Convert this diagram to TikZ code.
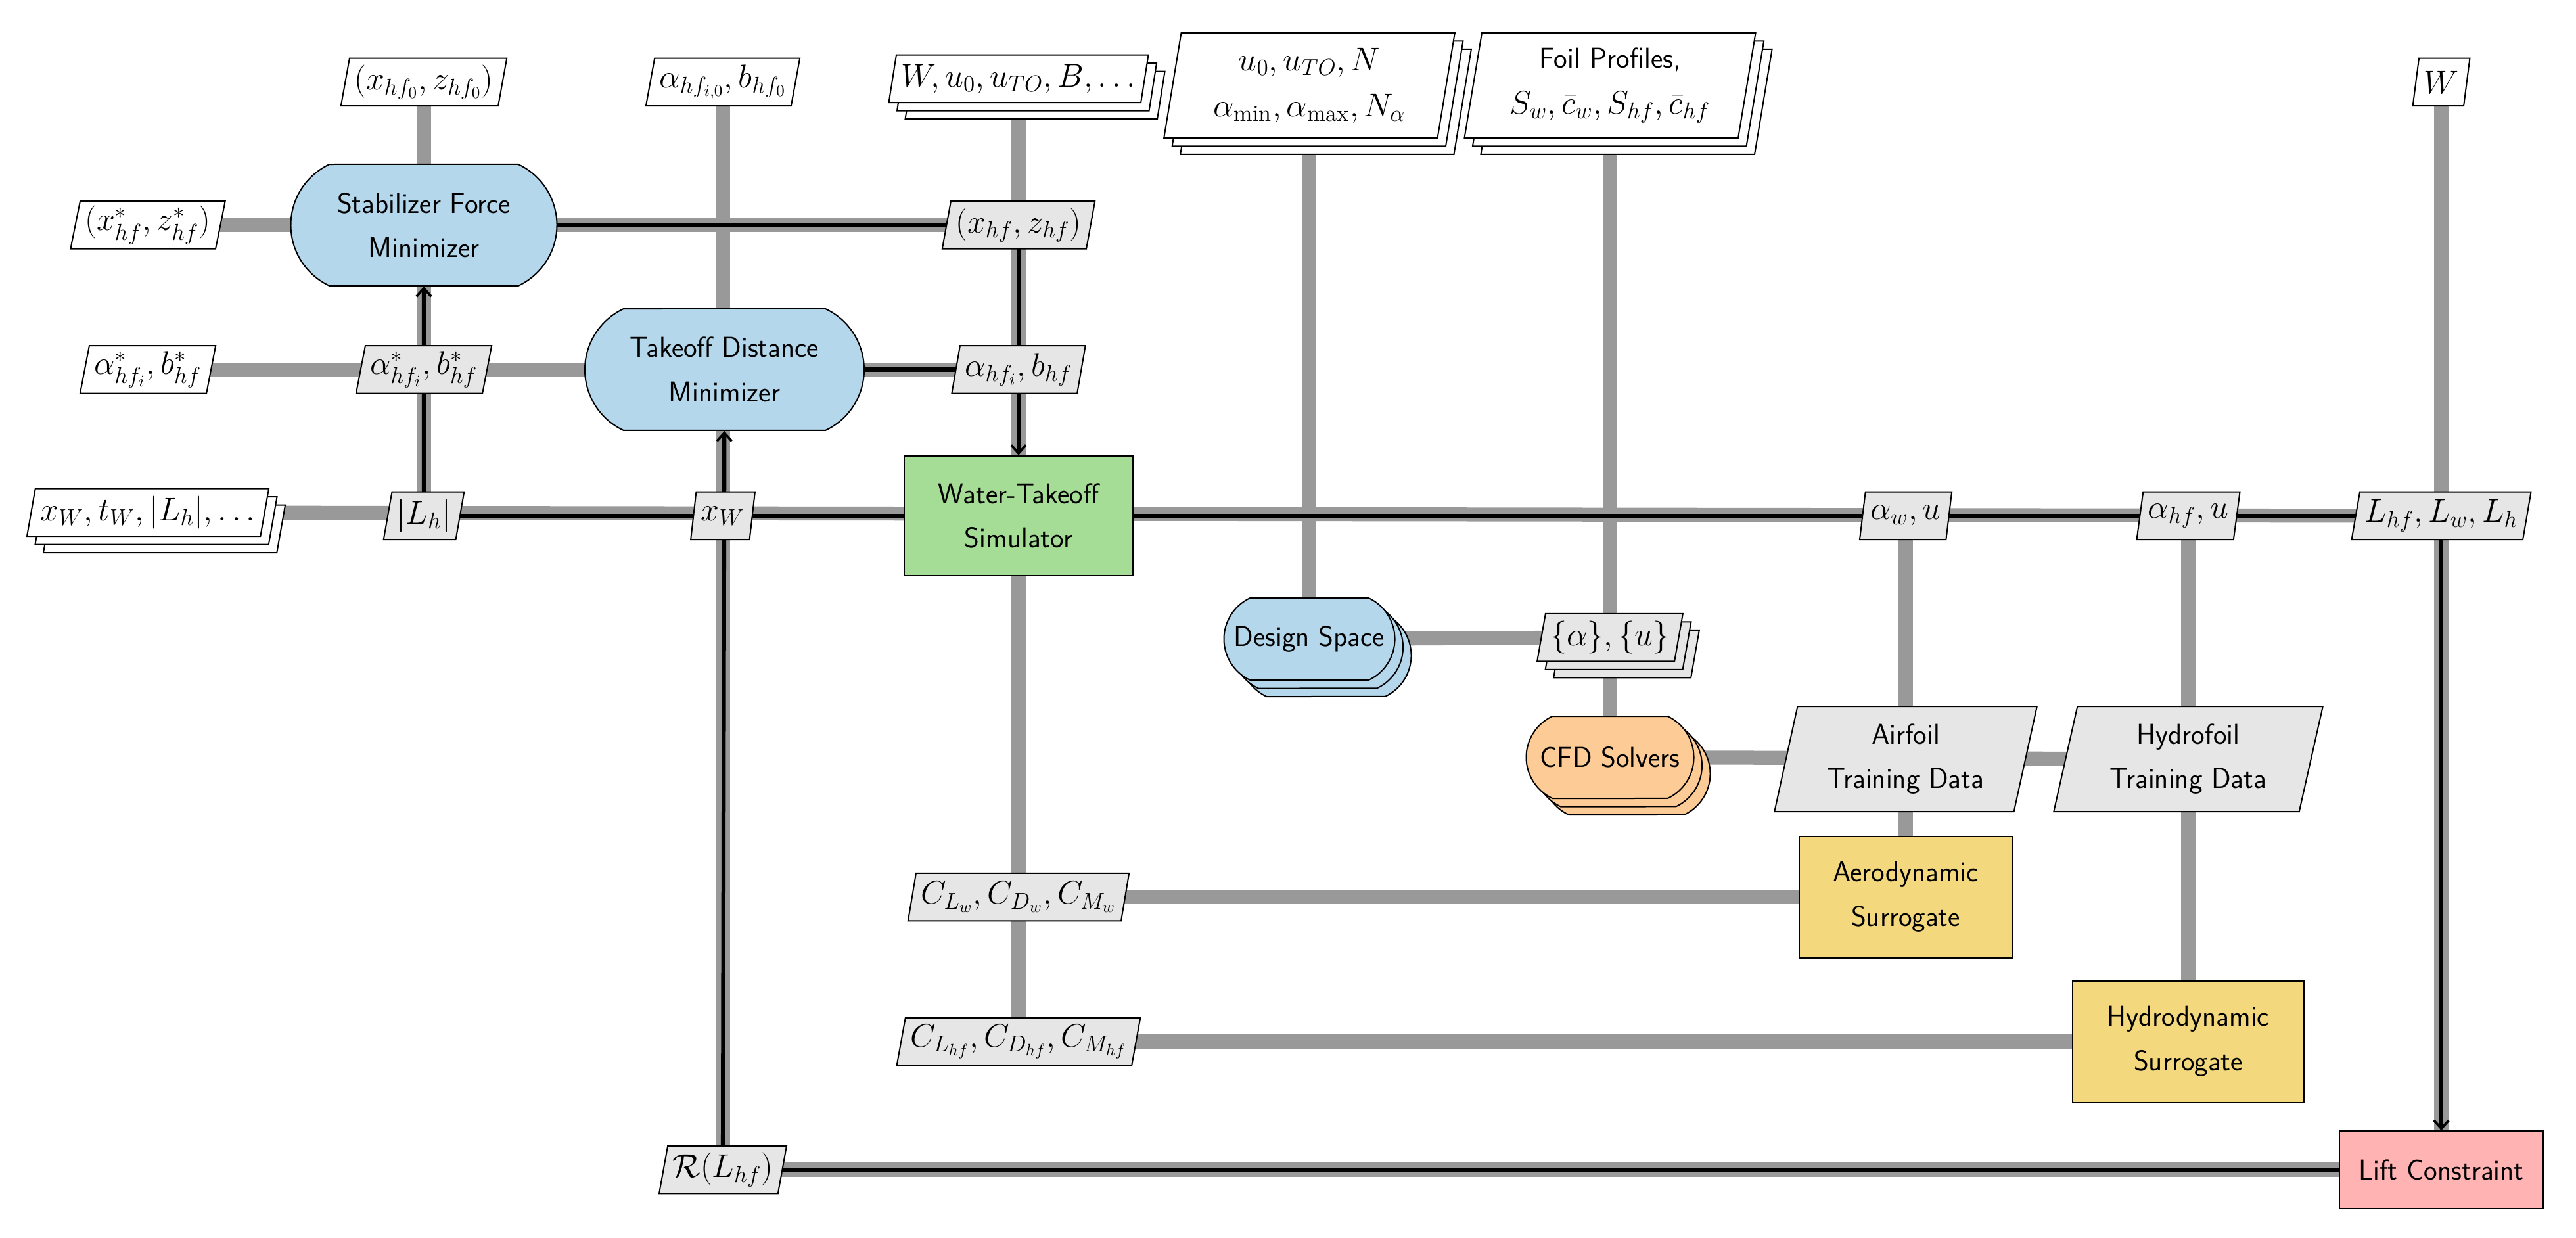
\RequirePackage{fix-cm}
\documentclass[tikz,border=0pt]{standalone}
\usepackage{amsmath}
\usepackage{fontspec}
\usetikzlibrary{shapes.geometric,shapes.misc,shadows,backgrounds,arrows.meta}
\definecolor{cblue}{HTML}{B4D7EC}
\definecolor{cgreen}{HTML}{A5DC96}
\definecolor{corange}{HTML}{FDCB95}
\definecolor{cyellow}{HTML}{F3D87E}
\definecolor{cred}{HTML}{FFB3B3}
\definecolor{cgray}{HTML}{E6E6E6}
\definecolor{lgray}{HTML}{999999}
\tikzset{
  base/.style={draw=black, line width=0.8pt, font=\fontsize{17.5}{27}\selectfont\sffamily, align=center},
  opt/.style={base, fill=cblue, rounded rectangle, rounded rectangle arc length=130, minimum height=74pt, inner xsep=4pt},
  func/.style={base, rectangle, minimum height=74pt},
  dat/.style={base, font=\fontsize{20}{28}\selectfont\sffamily, trapezium, trapezium left angle=78, trapezium right angle=102, trapezium stretches=true, minimum height=29pt, inner xsep=3pt, inner ysep=2pt},
  inp/.style={dat, fill=white},
  mid/.style={dat, fill=cgray},
  stack/.style={double copy shadow={shadow xshift=5pt, shadow yshift=-5pt}},
  dline/.style={draw=lgray, line width=8.5pt},
  pline/.style={draw=black, line width=2.5pt},
  parr/.style={pline, -{Straight Barb[length=5pt,width=9pt,line width=1.5pt]}},
}
\begin{document}
\begin{tikzpicture}[x=1pt,y=-1pt]
\useasboundingbox (0,0) rectangle (1568,753.6);
% process nodes
\node[opt, minimum width=170pt] (stab) at (258,137) {Stabilizer Force\\Minimizer};
\node[opt, minimum width=178pt] (tod) at (441,225) {Takeoff Distance\\Minimizer};
\node[func, fill=cgreen, minimum width=139pt, minimum height=73pt] (sim) at (620,314) {Water-Takeoff\\Simulator};
\node[opt, stack, minimum width=112pt, minimum height=50pt, rounded rectangle arc length=130] (ds) at (797,389) {Design Space};
\node[opt, stack, fill=corange, minimum width=110pt, minimum height=50pt, rounded rectangle arc length=130] (cfd) at (980,461) {CFD Solvers};
\node[mid, font=\fontsize{17.5}{27}\selectfont\sffamily, minimum width=160pt, minimum height=64pt, trapezium left angle=77, trapezium right angle=103] (atd) at (1160,462) {Airfoil\\Training Data};
\node[mid, font=\fontsize{17.5}{27}\selectfont\sffamily, minimum width=164pt, minimum height=64pt, trapezium left angle=77, trapezium right angle=103] (htd) at (1332,462) {Hydrofoil\\Training Data};
\node[func, fill=cyellow, minimum width=130pt] (aero) at (1160,546) {Aerodynamic\\Surrogate};
\node[func, fill=cyellow, minimum width=141pt] (hydro) at (1332,634) {Hydrodynamic\\Surrogate};
\node[func, fill=cred, minimum width=124pt, minimum height=47pt] (lift) at (1486,712) {Lift Constraint};
% data nodes
\node[inp] (xhf0) at (258,50) {$(x_{hf_0}, z_{hf_0})$};
\node[inp] (ahf0) at (440,50) {$\alpha_{hf_{i,0}}, b_{hf_0}$};
\node[inp, stack] (win) at (620,48) {$W, u_0, u_{TO}, B, \ldots$};
\node[inp, stack, minimum height=64pt, text width=150pt] (uin) at (797,52) {$u_0, u_{TO}, N$\\$\alpha_{\min}, \alpha_{\max}, N_\alpha$};
\node[inp, stack, minimum height=64pt, text width=150pt, font=\fontsize{17.5}{28}\selectfont\sffamily] (foil) at (980,52) {Foil Profiles,\\\fontsize{20}{28}\selectfont$S_w, \bar{c}_w, S_{hf}, \bar{c}_{hf}$};
\node[inp] (wtop) at (1486,50) {$W$};
\node[inp] (xs) at (90,137) {$(x^*_{hf}, z^*_{hf})$};
\node[mid] (xhf) at (620,137) {$(x_{hf}, z_{hf})$};
\node[inp] (as) at (90,225) {$\alpha^*_{hf_i}, b^*_{hf}$};
\node[mid] (asm) at (258,225) {$\alpha^*_{hf_i}, b^*_{hf}$};
\node[mid] (ahf) at (620,225) {$\alpha_{hf_i}, b_{hf}$};
\node[inp, stack] (xwin) at (90,312) {$x_W, t_W, |L_h|, \ldots$};
\node[mid] (lh) at (258,314) {$|L_h|$};
\node[mid] (xw) at (440,314) {$x_W$};
\node[mid] (awu) at (1160,314) {$\alpha_w, u$};
\node[mid] (ahu) at (1332,314) {$\alpha_{hf}, u$};
\node[mid] (lall) at (1486,314) {$L_{hf}, L_w, L_h$};
\node[mid, stack] (au) at (980,388) {$\{\alpha\}, \{u\}$};
\node[mid] (cw) at (620,546) {$C_{L_w}, C_{D_w}, C_{M_w}$};
\node[mid] (chf) at (620,634) {$C_{L_{hf}}, C_{D_{hf}}, C_{M_{hf}}$};
\node[mid] (rl) at (440,712) {$\mathcal{R}(L_{hf})$};
\begin{pgfonlayer}{background}
% data lines
\draw[dline] (xhf0.center) -- (stab.center);
\draw[dline] (stab.center) -- (lh.center);
\draw[dline] (ahf0.center) -- (rl.center);
\draw[dline] (win.center) -- (chf.center);
\draw[dline] (uin.center) -- (ds.center);
\draw[dline] (foil.center) -- (cfd.center);
\draw[dline] (awu.center) -- (aero.center);
\draw[dline] (ahu.center) -- (hydro.center);
\draw[dline] (wtop.center) -- (lift.center);
\draw[dline] (xs.center) -- (xhf.center);
\draw[dline] (as.center) -- (ahf.center);
\draw[dline] (xwin.center) -- (lall.center);
\draw[dline] (ds.center) -- (au.center);
\draw[dline] (cfd.center) -- (htd.center);
\draw[dline] (cw.center) -- (aero.center);
\draw[dline] (chf.center) -- (hydro.center);
\draw[dline] (rl.center) -- (lift.center);
% process lines
\draw[pline] (stab.center) -- (xhf.center) -- (ahf.center);
\draw[parr] (ahf.center) -- (sim);
\draw[pline] (tod.center) -- (ahf.center);
\draw[pline] (sim.center) -- (lall.center);
\draw[parr] (lall.center) -- (lift);
\draw[pline] (lift.center) -- (rl.center);
\draw[parr] (rl.center) -- (tod);
\draw[pline] (lh.center) -- (sim.center);
\draw[parr] (lh.center) -- (stab);
\end{pgfonlayer}
\end{tikzpicture}
\end{document}
